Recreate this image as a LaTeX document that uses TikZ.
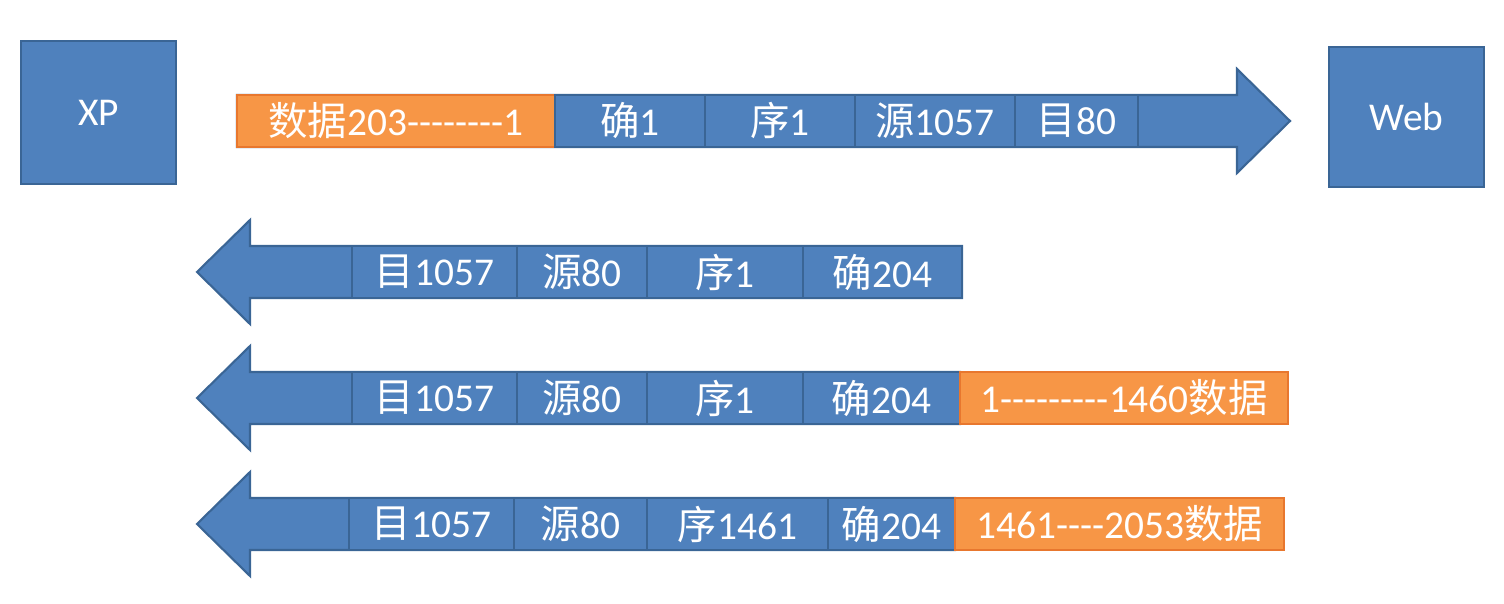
\documentclass[tikz,border=0pt]{standalone}
\usepackage{fontspec}
\setmainfont{Carlito}
\newfontfamily\cjk{Noto Sans CJK SC}
\usetikzlibrary{positioning}
\definecolor{segblue}{HTML}{4F81BD}
\definecolor{segblueline}{HTML}{3A6595}
\definecolor{segorange}{HTML}{F79646}
\definecolor{segorangeline}{HTML}{E8772E}
\newcommand\zh[1]{{\cjk #1}}
\newcommand\hy{-\kern0pt}
\tikzset{
  host box/.style={
    draw=segblueline,
    fill=segblue,
    line width=0.8pt,
    text=white,
    font=\fontsize{11.2}{13}\selectfont
  },
  seg field/.style={
    draw=segblueline,
    fill=segblue,
    line width=0.7pt,
    text=white,
    inner sep=0pt,
    outer sep=0pt,
    minimum height=0.52cm,
    font=\fontsize{11.2}{13}\selectfont
  },
  seg data/.style={
    seg field,
    draw=segorangeline,
    fill=segorange
  },
  seg arrow/.style={
    draw=segblueline,
    fill=segblue,
    line width=0.6pt,
    line join=miter
  }
}

\begin{document}
\begin{tikzpicture}[x=0.01cm,y=-0.01cm]

    \useasboundingbox (0,0) rectangle (1504,604);

    % ---------- 主机 ----------
    \node[host box, minimum width=1.55cm, minimum height=1.43cm]
      (xp) at (98.5,112.5) {XP};
    \node[host box, minimum width=1.55cm, minimum height=1.40cm]
      (web) at (1406.5,117) {Web};

    % ---------- 第一段: XP -> Web ----------
    \draw[seg arrow]
      (237,95) -- (1237,95) -- (1237,69) -- (1290,121)
      -- (1237,173) -- (1237,147) -- (237,147) -- cycle;

    \node[seg data, minimum width=3.18cm] (r1data) at (396,121)
      {\zh{数据}203\hy\hy\hy\hy\hy\hy\hy\hy1};

    \foreach \name/\xa/\xb/\txt in {
      r1ack/555/705/\zh{确}1,
      r1seq/705/855/\zh{序}1,
      r1src/855/1015/\zh{源}1057,
      r1dst/1015/1138/\zh{目}80
    }{
      \node[seg field, minimum width={(\xb-\xa)*0.01cm}]
        (\name) at ({(\xa+\xb)/2},121) {\txt};
    }

    % ---------- 第二段: Web -> XP (确认) ----------
    \draw[seg arrow]
      (962,246) -- (250,246) -- (250,220) -- (197,272)
      -- (250,324) -- (250,298) -- (962,298) -- cycle;

    \foreach \name/\xa/\xb/\txt in {
      r2dst/352/517/\zh{目}1057,
      r2src/517/647/\zh{源}80,
      r2seq/647/803/\zh{序}1,
      r2ack/803/962/\zh{确}204
    }{
      \node[seg field, minimum width={(\xb-\xa)*0.01cm}]
        (\name) at ({(\xa+\xb)/2},272) {\txt};
    }

    % ---------- 第三段: Web -> XP (数据 1--1460) ----------
    \draw[seg arrow]
      (960,372) -- (250,372) -- (250,346) -- (197,398)
      -- (250,450) -- (250,424) -- (960,424) -- cycle;

    \foreach \name/\xa/\xb/\txt in {
      r3dst/352/517/\zh{目}1057,
      r3src/517/647/\zh{源}80,
      r3seq/647/803/\zh{序}1,
      r3ack/803/960/\zh{确}204
    }{
      \node[seg field, minimum width={(\xb-\xa)*0.01cm}]
        (\name) at ({(\xa+\xb)/2},398) {\txt};
    }
    \node[seg data, minimum width=3.28cm, right=0pt of r3ack] (r3data)
      {1\hy\hy\hy\hy\hy\hy\hy\hy\hy1460\zh{数据}};

    % ---------- 第四段: Web -> XP (数据 1461--2053) ----------
    \draw[seg arrow]
      (955,498) -- (250,498) -- (250,472) -- (197,524)
      -- (250,576) -- (250,550) -- (955,550) -- cycle;

    \foreach \name/\xa/\xb/\txt in {
      r4dst/349/514/\zh{目}1057,
      r4src/514/647/\zh{源}80,
      r4seq/647/828/\zh{序}1461,
      r4ack/828/955/\zh{确}204
    }{
      \node[seg field, minimum width={(\xb-\xa)*0.01cm}]
        (\name) at ({(\xa+\xb)/2},524) {\txt};
    }
    \node[seg data, minimum width=3.29cm, right=0pt of r4ack] (r4data)
      {1461\hy\hy\hy\hy2053\zh{数据}};

\end{tikzpicture}
\end{document}
